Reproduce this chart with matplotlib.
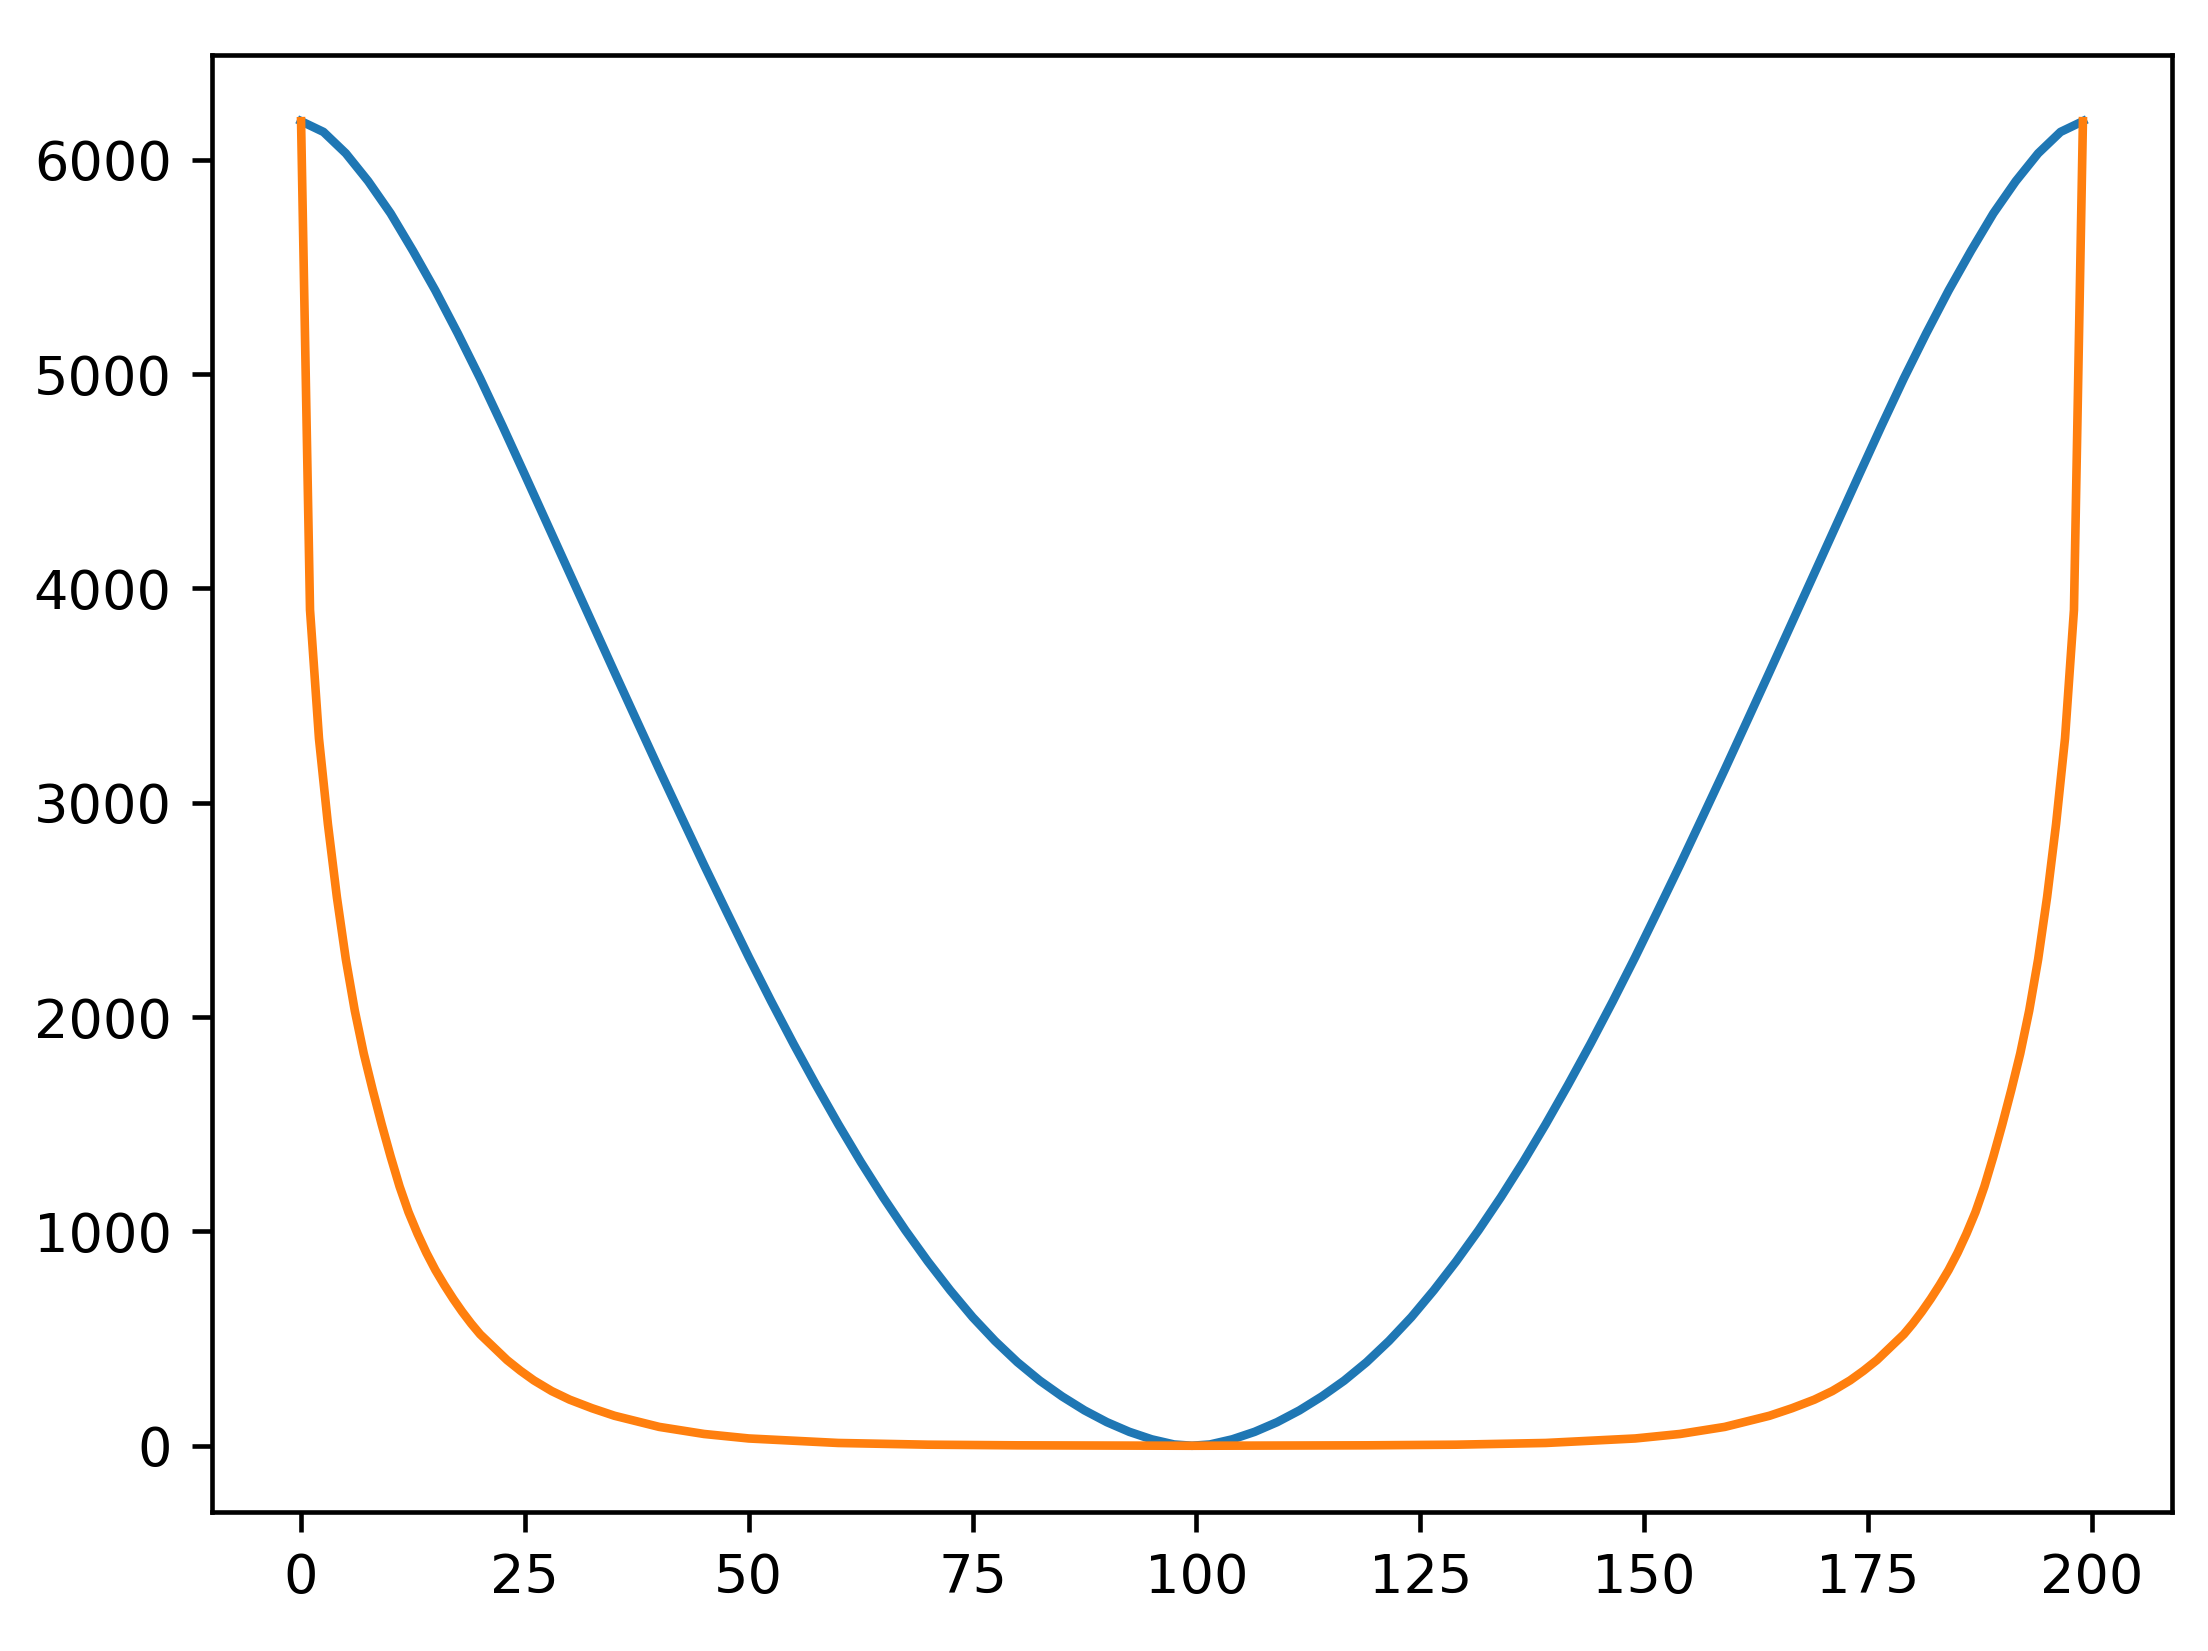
import matplotlib
matplotlib.use('Agg')
import matplotlib.pyplot as plt

# Blue curve: values (index 0..199)
blue_x = [0, 2.5, 5, 7.5, 10, 12.5, 15, 17.5, 20, 22.5, 25, 27.5, 30, 32.5, 35, 37.5, 40, 42.5, 45, 47.5,
          50, 52.5, 55, 57.5, 60, 62.5, 65, 67.5, 70, 72.5, 75, 77.5, 80, 82.5, 85, 87.5, 90, 92.5, 95, 97.5, 99.5,
          101.5, 104, 106.5, 109, 111.5, 114, 116.5, 119, 121.5, 124, 126.5, 129, 131.5, 134, 136.5, 139, 141.5,
          144, 146.5, 149, 151.5, 154, 156.5, 159, 161.5, 164, 166.5, 169, 171.5, 174, 176.5, 179, 181.5,
          184, 186.5, 189, 191.5, 194, 196.5, 199]
blue_y = [6180, 6130, 6030, 5900, 5750, 5575, 5390, 5190, 4980, 4758, 4530, 4300, 4070, 3840, 3610, 3382, 3155, 2932, 2710, 2494,
          2280, 2074, 1875, 1684, 1500, 1325, 1160, 1005, 860, 725, 600, 489, 390, 304, 230, 165, 110, 65, 30, 6, 0,
          6, 30, 65, 110, 165, 230, 304, 390, 489, 600, 725, 860, 1005, 1160, 1325, 1500, 1684,
          1875, 2074, 2280, 2494, 2710, 2932, 3155, 3382, 3610, 3840, 4070, 4300, 4530, 4758, 4980, 5190,
          5390, 5575, 5750, 5900, 6030, 6130, 6180]

# Orange curve
orange_x = [0, 1, 2, 3, 4, 5, 6, 7, 8, 9, 10, 11, 12, 13, 14, 15, 16, 17, 18, 19, 20, 21.5, 23, 24.5, 26, 28, 30,
            32.5, 35, 40, 45, 50, 60, 70, 80, 90, 99.5,
            109, 119, 129, 139, 149, 154, 159, 164, 166.5, 169, 171, 173, 174.5, 176, 177.5, 179, 180, 181, 182,
            183, 184, 185, 186, 187, 188, 189, 190, 191, 192, 193, 194, 195, 196, 197, 198, 199]
orange_y = [6180, 3900, 3300, 2900, 2560, 2270, 2030, 1830, 1660, 1500, 1350, 1210, 1090, 990, 900, 820, 750, 685, 625, 570, 520,
            460, 400, 350, 305, 255, 215, 175, 140, 88, 55, 34, 13, 5, 2, 1, 0,
            1, 2, 5, 13, 34, 55, 88, 140, 175, 215, 255, 305, 350, 400, 460, 520, 570, 625, 685,
            750, 820, 900, 990, 1090, 1210, 1350, 1500, 1660, 1830, 2030, 2270, 2560, 2900, 3300, 3900, 6180]

fig = plt.figure(figsize=(2208 / 345, 1651 / 345), dpi=345)
ax = fig.add_subplot(1, 1, 1)
fig.subplots_adjust(left=0.096, right=0.9837, bottom=0.0842, top=0.9667)

ax.plot(blue_x, blue_y, color='tab:blue', linewidth=1.8)
ax.plot(orange_x, orange_y, color='tab:orange', linewidth=1.8)

ax.set_xticks([0, 25, 50, 75, 100, 125, 150, 175, 200])
ax.set_yticks([0, 1000, 2000, 3000, 4000, 5000, 6000])
ax.tick_params(labelsize=11.3, length=4.2, width=0.96, pad=4.2)
for s in ax.spines.values():
    s.set_linewidth(0.96)

fig.savefig('out.png', dpi=345)
